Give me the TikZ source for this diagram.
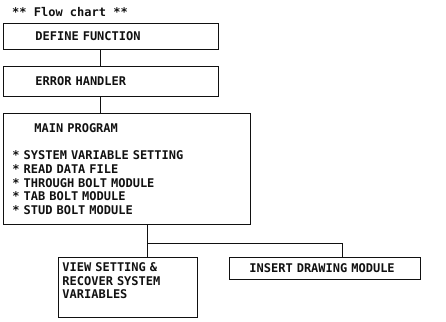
\documentclass[tikz,border=0pt]{standalone}
\usepackage{fontspec}
\usepackage{xcolor}
\usepackage{tikz}
\usetikzlibrary{positioning,calc}
\newfontfamily\fcmono{DejaVu Sans Mono}
\definecolor{fcInk}{HTML}{111111}
\tikzset{
  fcbox/.style={draw=fcInk,line width=0.9pt,anchor=north west,align=left,inner ysep=0pt,
                text=fcInk,font={\fcmono\bfseries\fontsize{12}{13.7}\selectfont}},
  fcflow/.style={draw=fcInk,line width=0.8pt},
  fctitle/.style={anchor=west,inner sep=0pt,text=fcInk,font={\fcmono\bfseries\fontsize{12}{13.7}\selectfont}},
}
\begin{document}
\begin{tikzpicture}[x=1pt,y=1pt]
  \useasboundingbox (0,0) rectangle (446,-321);
  \node[fctitle] (T) at (12,-12) {** Flow chart **};

  \node[fcbox,minimum width=215,minimum height=26,inner xsep=32,text width=151] (F) at (3,-23) {DEFINE FUNCTION};
  \node[fcbox,minimum width=215,minimum height=30,inner xsep=32,text width=151] (E) at (3,-66) {ERROR HANDLER};
  \node[fcbox,minimum width=247,minimum height=111,inner xsep=9,text width=229] (M) at (3,-113)
        {\hspace*{22pt}MAIN PROGRAM\\[13.7pt]
         {*} SYSTEM VARIABLE SETTING\\
         {*} READ DATA FILE\\
         {*} THROUGH BOLT MODULE\\
         {*} TAB BOLT MODULE\\
         {*} STUD BOLT MODULE};

  \node[fcbox,minimum width=139,minimum height=60,inner xsep=4,inner ysep=5,text depth=41pt,text width=131] (V) at (58,-257)
        {VIEW SETTING \&\\RECOVER SYSTEM\\VARIABLES};
  \node[fcbox,minimum width=191,minimum height=22,inner xsep=20,text width=151] (I) at (229,-257) {INSERT DRAWING MODULE};

  \draw[fcflow] ([xshift=97]F.south west) -- ([xshift=97]E.north west);
  \draw[fcflow] ([xshift=97]E.south west) -- ([xshift=97]M.north west);
  \draw[fcflow] ([xshift=144]M.south west) -- ([xshift=89]V.north west);
  \coordinate (J) at ([xshift=144,yshift=-18]M.south west);
  \draw[fcflow] (J) -| ([xshift=113]I.north west);
\end{tikzpicture}
\end{document}
